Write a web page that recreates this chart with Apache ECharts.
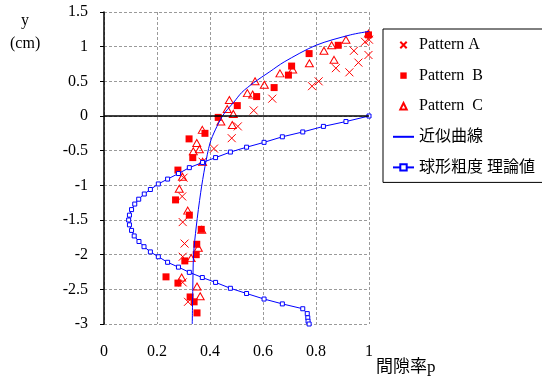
<!DOCTYPE html>
<html>
<head>
<meta charset="utf-8">
<script src="https://cdn.jsdelivr.net/npm/echarts@6/dist/echarts.min.js"></script>
<style>
  html, body { margin: 0; padding: 0; background: #fff; }
  #chart { width: 542px; height: 383px; }
</style>
</head>
<body>
<div id="chart"></div>
<script>
// measured points [p, y]
var patternA = [
  [1.0, 1.1], [0.985, 1.07], [0.998, 0.88], [0.943, 0.94], [0.96, 0.77],
  [0.875, 0.69], [0.926, 0.63], [0.81, 0.5], [0.785, 0.43], [0.635, 0.25],
  [0.565, 0.08], [0.505, -0.15], [0.482, -0.32], [0.415, -0.47], [0.372, -0.66],
  [0.3, -0.89], [0.295, -1.16], [0.297, -1.53], [0.304, -1.84], [0.297, -2.03],
  [0.297, -2.4], [0.317, -2.68]
];
var patternB = [
  [0.998, 1.17], [0.884, 1.02], [0.774, 0.9], [0.708, 0.72], [0.696, 0.59],
  [0.642, 0.41], [0.576, 0.28], [0.503, 0.15], [0.431, -0.02], [0.381, -0.25],
  [0.321, -0.33], [0.335, -0.6], [0.279, -0.78], [0.27, -1.21], [0.322, -1.43],
  [0.367, -1.635], [0.35, -1.85], [0.348, -2.0], [0.305, -2.09], [0.234, -2.32],
  [0.279, -2.41], [0.325, -2.61], [0.34, -2.68], [0.351, -2.84]
];
var patternC = [
  [0.998, 1.19], [0.913, 1.1], [0.859, 1.02], [0.83, 0.94], [0.868, 0.81],
  [0.775, 0.76], [0.712, 0.67], [0.664, 0.615], [0.57, 0.5], [0.605, 0.45],
  [0.541, 0.33], [0.561, 0.31], [0.473, 0.23], [0.465, 0.1], [0.488, 0.03],
  [0.441, -0.08], [0.484, -0.13], [0.371, -0.2], [0.35, -0.39], [0.36, -0.48],
  [0.337, -0.51], [0.372, -0.66], [0.296, -0.875], [0.284, -1.05], [0.316, -1.365],
  [0.369, -1.64], [0.356, -1.9], [0.329, -2.05], [0.293, -2.33], [0.351, -2.46],
  [0.363, -2.6]
];
var fitCurve = [
  [1.0, 1.22], [0.93, 1.17], [0.8, 1.02], [0.68, 0.78], [0.626, 0.64],
  [0.565, 0.48], [0.52, 0.34], [0.49, 0.2], [0.465, 0.09], [0.447, 0.0],
  [0.42, -0.2], [0.4, -0.39], [0.381, -0.73], [0.365, -1.1], [0.348, -1.6],
  [0.338, -2.0], [0.335, -2.5], [0.333, -3.0]
];
var theory = [
  [1.0, 0], [0.913, -0.08], [0.828, -0.15], [0.75, -0.23], [0.673, -0.3],
  [0.604, -0.38], [0.538, -0.45], [0.477, -0.52], [0.421, -0.6], [0.372, -0.67],
  [0.322, -0.745], [0.281, -0.83], [0.24, -0.91], [0.205, -0.98], [0.175, -1.06],
  [0.152, -1.125], [0.131, -1.2], [0.116, -1.27], [0.104, -1.35], [0.096, -1.43],
  [0.093, -1.5], [0.096, -1.57], [0.104, -1.65], [0.114, -1.73], [0.132, -1.81],
  [0.151, -1.885], [0.175, -1.96], [0.205, -2.03], [0.24, -2.11], [0.281, -2.18],
  [0.322, -2.255], [0.371, -2.33], [0.421, -2.4], [0.477, -2.485], [0.538, -2.56],
  [0.604, -2.64], [0.673, -2.71], [0.75, -2.78], [0.767, -2.85], [0.769, -2.91],
  [0.77, -2.96], [0.774, -3.0]
];
var names = ['Pattern A', 'Pattern  B', 'Pattern  C', '近似曲線', '球形粗度 理論値'];

var serif = "'Liberation Serif', 'Times New Roman', 'Noto Sans CJK JP', serif";
var red = '#ff0000';
var blue = '#0000ff';

var chart = echarts.init(document.getElementById('chart'));
chart.setOption({
  animation: false,
  backgroundColor: '#fff',
  textStyle: { fontFamily: serif },
  grid: { left: 104, top: 12, width: 265, height: 312, containLabel: false },
  xAxis: {
    type: 'value', min: 0, max: 1, interval: 0.2,
    axisLine: { show: false },
    axisTick: { show: false },
    axisLabel: { color: '#000', fontSize: 16, fontFamily: serif, margin: 20 },
    splitLine: { show: true, lineStyle: { color: '#9a9a9a', type: [3, 2], width: 1 } }
  },
  yAxis: {
    type: 'value', min: -3, max: 1.5, interval: 0.5,
    axisLine: { show: true, onZero: false, lineStyle: { color: '#000', width: 1.5 } },
    axisTick: { show: true, inside: false, length: 4, lineStyle: { color: '#000' } },
    axisLabel: { color: '#000', fontSize: 16, fontFamily: serif, margin: 16 },
    splitLine: { show: true, lineStyle: { color: '#9a9a9a', type: [3, 2], width: 1 } }
  },
  legend: {
    orient: 'vertical', left: 383, top: 29,
    padding: [8, 8, 7, 9],
    itemWidth: 21, itemHeight: 8, itemGap: 14.6,
    borderColor: '#000', borderWidth: 1,
    textStyle: { color: '#000', fontSize: 16, fontFamily: serif },
    data: [
      names[0], names[1], names[2],
      { name: names[3], itemStyle: { opacity: 0 } },
      names[4]
    ]
  },
  graphic: [
    { type: 'text', left: 21, top: 13, style: { text: 'y', font: "16px " + serif, fill: '#000' } },
    { type: 'text', left: 10, top: 36, style: { text: '(cm)', font: "16px " + serif, fill: '#000' } },
    { type: 'text', left: 376, top: 359, style: { text: '間隙率p', font: "17px " + serif, fill: '#000' } }
  ],
  series: [
    {
      name: names[0], type: 'line', data: patternA,
      symbol: 'path://M0,0L10,10M10,0L0,10', symbolSize: 8,
      itemStyle: { color: 'rgba(0,0,0,0)', borderColor: red, borderWidth: 1 },
      lineStyle: { width: 0, opacity: 0 }, z: 3,
      markLine: {
        silent: true, symbol: 'none', label: { show: false },
        lineStyle: { color: '#000', type: 'solid', width: 1.5 },
        data: [{ yAxis: 0 }]
      }
    },
    {
      name: names[1], type: 'line', data: patternB,
      symbol: 'rect', symbolSize: 7,
      itemStyle: { color: red, borderWidth: 0 },
      lineStyle: { width: 0, opacity: 0 }, z: 3
    },
    {
      name: names[2], type: 'line', data: patternC,
      symbol: 'triangle', symbolSize: [8, 7],
      itemStyle: { color: 'rgba(0,0,0,0)', borderColor: red, borderWidth: 1 },
      lineStyle: { width: 0, opacity: 0 }, z: 3
    },
    {
      name: names[3], type: 'line', data: fitCurve,
      symbol: 'none', smooth: 0.3,
      itemStyle: { color: blue },
      lineStyle: { color: blue, width: 1 }, z: 4
    },
    {
      name: names[4], type: 'line', data: theory,
      symbol: 'rect', symbolSize: 4, showSymbol: true,
      itemStyle: { color: '#fff', borderColor: blue, borderWidth: 1 },
      lineStyle: { color: blue, width: 1 }, z: 4
    }
  ]
});
</script>
</body>
</html>
